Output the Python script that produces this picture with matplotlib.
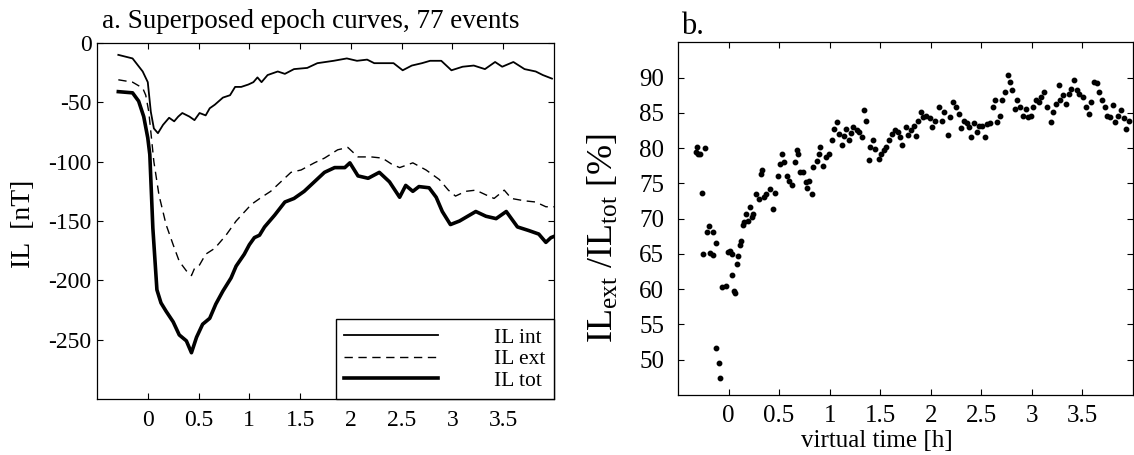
import matplotlib
matplotlib.use("Agg")
import matplotlib.pyplot as plt

plt.rcParams.update({
    "font.family": ["Liberation Serif", "DejaVu Serif"],
    "mathtext.fontset": "custom",
    "mathtext.rm": "Liberation Serif",
    "mathtext.it": "Liberation Serif:italic",
    "axes.unicode_minus": False,
})

# ---------------- data: panel a (superposed epoch curves) ----------------
t_int = [-0.29, -0.15, -0.05, 0.0, 0.03, 0.06, 0.10, 0.15, 0.21, 0.26,
         0.30, 0.34, 0.41, 0.46, 0.51, 0.57, 0.61, 0.66, 0.74, 0.81,
         0.86, 0.92, 0.99, 1.04, 1.08, 1.12, 1.18, 1.28, 1.35, 1.44,
         1.57, 1.67, 1.83, 1.96, 2.06, 2.16, 2.23, 2.30, 2.42, 2.51,
         2.60, 2.70, 2.78, 2.89, 2.99, 3.10, 3.21, 3.32, 3.42, 3.49,
         3.60, 3.71, 3.82, 3.89, 3.98]
il_int = [-10, -13, -24, -33, -58, -72, -76, -69, -63, -66,
          -62, -59, -62, -65, -59, -61, -55, -52, -46, -44,
          -37, -37, -35, -33, -29, -33, -27, -24, -26, -22,
          -21, -17, -15, -13, -15, -14, -17, -17, -17, -23,
          -19, -17, -15, -15, -23, -20, -19, -22, -16, -20,
          -16, -22, -24, -27, -30]

t_ext = [-0.29, -0.15, -0.05, -0.02, 0.01, 0.06, 0.11, 0.18, 0.25, 0.31,
         0.38, 0.43, 0.46, 0.51, 0.57, 0.66, 0.77, 0.87, 1.02, 1.12,
         1.21, 1.31, 1.41, 1.51, 1.64, 1.74, 1.87, 1.97, 2.07, 2.20,
         2.31, 2.40, 2.48, 2.61, 2.74, 2.87, 2.96, 3.03, 3.13, 3.23,
         3.33, 3.41, 3.51, 3.58, 3.71, 3.82, 3.92, 4.00]
il_ext = [-31, -33, -38, -44, -58, -100, -128, -153, -170, -184,
          -192, -196, -190, -187, -178, -173, -162, -150, -136, -130,
          -125, -117, -109, -107, -101, -97, -90, -88, -96, -96,
          -97, -102, -105, -101, -107, -115, -124, -129, -125, -124,
          -128, -131, -124, -131, -133, -134, -138, -138]

t_tot = [-0.29, -0.15, -0.09, -0.04, 0.0, 0.02, 0.05, 0.09, 0.13, 0.18,
         0.25, 0.31, 0.38, 0.43, 0.48, 0.54, 0.61, 0.67, 0.74, 0.82,
         0.87, 0.95, 1.0, 1.05, 1.10, 1.15, 1.25, 1.35, 1.44, 1.54,
         1.64, 1.74, 1.84, 1.94, 1.99, 2.07, 2.17, 2.28, 2.38, 2.48,
         2.54, 2.61, 2.67, 2.77, 2.84, 2.90, 2.98, 3.07, 3.17, 3.23,
         3.33, 3.43, 3.53, 3.64, 3.75, 3.85, 3.92, 3.97, 4.0]
il_tot = [-41, -42, -49, -62, -80, -94, -156, -208, -219, -226,
          -235, -246, -251, -261, -248, -237, -232, -220, -209, -198,
          -188, -178, -170, -164, -162, -155, -145, -134, -131, -125,
          -117, -109, -105, -105, -101, -112, -114, -109, -117, -130,
          -120, -125, -121, -122, -130, -142, -153, -150, -145, -142,
          -146, -148, -142, -155, -158, -161, -168, -164, -163]

series_labels = ["IL int", "IL ext", "IL tot"]

# ---------------- data: panel b (ratio IL_ext / IL_tot) ----------------
t_ratio = [-0.32, -0.31, -0.30, -0.28, -0.23, -0.26, -0.25, -0.21, -0.19, -0.15,
           -0.18, -0.15, -0.12, -0.12, -0.09, -0.08, -0.06, -0.03, -0.01, 0.01,
           0.03, 0.03, 0.05, 0.06, 0.08, 0.09, 0.11, 0.12, 0.14, 0.15,
           0.17, 0.19, 0.21, 0.23, 0.24, 0.27, 0.30, 0.32, 0.33, 0.35,
           0.37, 0.41, 0.44, 0.46, 0.49, 0.51, 0.53, 0.55, 0.58, 0.60,
           0.63, 0.66, 0.68, 0.69, 0.71, 0.74, 0.77, 0.78, 0.80, 0.83,
           0.84, 0.87, 0.89, 0.90, 0.93, 0.96, 0.99, 1.02, 1.04, 1.07,
           1.09, 1.12, 1.14, 1.16, 1.19, 1.21, 1.23, 1.27, 1.29, 1.32,
           1.34, 1.36, 1.39, 1.40, 1.43, 1.45, 1.49, 1.51, 1.54, 1.56,
           1.59, 1.62, 1.65, 1.68, 1.70, 1.72, 1.75, 1.77, 1.80, 1.83,
           1.85, 1.87, 1.90, 1.92, 1.95, 1.99, 2.01, 2.04, 2.08, 2.11,
           2.13, 2.17, 2.19, 2.22, 2.25, 2.28, 2.30, 2.33, 2.36, 2.38,
           2.40, 2.43, 2.46, 2.48, 2.51, 2.54, 2.56, 2.59, 2.62, 2.64,
           2.65, 2.68, 2.70, 2.73, 2.76, 2.78, 2.80, 2.83, 2.85, 2.88,
           2.91, 2.94, 2.96, 2.99, 3.01, 3.04, 3.07, 3.09, 3.12, 3.15,
           3.19, 3.21, 3.24, 3.27, 3.28, 3.31, 3.34, 3.37, 3.39, 3.42,
           3.45, 3.47, 3.51, 3.54, 3.56, 3.58, 3.61, 3.64, 3.66, 3.69,
           3.72, 3.74, 3.77, 3.80, 3.82, 3.85, 3.88, 3.91, 3.93, 3.96]
ratio = [79.4, 80.1, 79.2, 79.1, 80.0, 73.6, 65.0, 68.1, 69.0, 68.1,
         65.2, 64.9, 66.5, 51.6, 49.6, 47.4, 60.3, 60.5, 65.3, 65.4,
         65.0, 62.0, 59.8, 59.5, 63.6, 64.7, 66.2, 66.8, 69.1, 69.5,
         70.7, 69.7, 71.7, 70.2, 70.7, 73.5, 72.8, 76.3, 76.9, 73.0,
         73.5, 74.2, 71.4, 73.7, 76.0, 77.8, 79.1, 78.0, 76.1, 75.4,
         74.8, 78.0, 79.8, 79.2, 76.6, 76.6, 75.2, 74.4, 75.4, 73.5,
         77.3, 78.2, 79.2, 80.2, 77.5, 78.7, 79.2, 81.1, 82.7, 83.7,
         82.0, 80.4, 81.7, 82.7, 81.1, 82.1, 83.0, 82.5, 82.3, 81.6,
         85.4, 83.9, 78.3, 80.1, 81.1, 79.9, 78.5, 79.2, 79.7, 80.1,
         81.1, 82.0, 82.5, 82.3, 81.6, 80.4, 83.0, 81.8, 82.5, 83.2,
         81.7, 83.9, 85.1, 84.4, 84.6, 84.2, 83.0, 83.9, 85.8, 83.9,
         85.1, 81.8, 84.4, 86.5, 85.8, 84.9, 82.9, 83.9, 83.5, 83.0,
         81.6, 83.5, 82.3, 83.2, 83.2, 81.6, 83.4, 83.5, 85.8, 86.8,
         83.7, 84.6, 86.8, 88.0, 90.3, 89.4, 88.2, 85.6, 86.8, 85.8,
         84.6, 85.6, 84.4, 84.6, 85.8, 86.8, 86.5, 87.3, 88.0, 85.8,
         83.7, 85.1, 86.3, 88.9, 86.8, 87.5, 86.3, 87.7, 88.4, 89.6,
         88.2, 87.7, 87.3, 85.8, 84.9, 86.5, 89.4, 89.2, 88.0, 86.8,
         85.8, 84.6, 84.4, 86.1, 83.7, 84.6, 85.4, 84.2, 82.7, 83.9]

x_ticks = [0, 0.5, 1, 1.5, 2, 2.5, 3, 3.5]
x_tick_labels = ["0", "0.5", "1", "1.5", "2", "2.5", "3", "3.5"]
ya_ticks = [-250, -200, -150, -100, -50, 0]
ya_tick_labels = ["-250", "-200", "-150", "-100", "-50", "0"]
yb_ticks = [50, 55, 60, 65, 70, 75, 80, 85, 90]
yb_tick_labels = ["50", "55", "60", "65", "70", "75", "80", "85", "90"]

W, H = 1134, 455
fig = plt.figure(figsize=(W / 100, H / 100), dpi=100)
axa = fig.add_axes([97 / W, 56 / H, 457 / W, 356 / H])
axb = fig.add_axes([678 / W, 60 / H, 455 / W, 352.7 / H])

# ---- panel a
axa.plot(t_int, il_int, color="black", lw=1.3, label=series_labels[0])
axa.plot(t_ext, il_ext, color="black", lw=1.0, dashes=(6, 4), label=series_labels[1])
axa.plot(t_tot, il_tot, color="black", lw=2.6, label=series_labels[2])
axa.set_xlim(-0.5, 4.0)
axa.set_ylim(-300, 0)
axa.set_xticks(x_ticks)
axa.set_xticklabels(x_tick_labels)
axa.set_yticks(ya_ticks)
axa.set_yticklabels(ya_tick_labels)
axa.tick_params(direction="in", top=True, right=True, length=4, width=0.8,
                labelsize=17)
axa.tick_params(axis="x", pad=8)
axa.tick_params(axis="y", pad=4)
leg = axa.legend(loc="lower right", bbox_to_anchor=(1, 0), borderaxespad=0,
                 fontsize=15.5, handlelength=4.4, handletextpad=2.6,
                 labelspacing=0.07, borderpad=0.38, fancybox=False,
                 framealpha=1, edgecolor="black")
leg.get_frame().set_linewidth(1.0)

# ---- panel b
axb.plot(t_ratio, ratio, linestyle="none", marker="o", ms=3.2, color="black")
axb.set_xlim(-0.5, 4.0)
axb.set_ylim(45, 95)
axb.set_xticks(x_ticks)
axb.set_xticklabels(x_tick_labels)
axb.set_yticks(yb_ticks)
axb.set_yticklabels(yb_tick_labels)
axb.tick_params(direction="in", top=True, right=True, length=4, width=0.8,
                labelsize=18)
axb.tick_params(axis="x", pad=7)
axb.tick_params(axis="y", pad=10)

for ax in (axa, axb):
    for s in ax.spines.values():
        s.set_linewidth(0.9)

# ---- texts
fig.text(102 / W, 1 - 28 / H, "a. Superposed epoch curves, 77 events",
         fontsize=19.5, ha="left", va="baseline")
fig.text(681 / W, 1 - 34 / H, "b.", fontsize=22, ha="left", va="baseline")
fig.text(24 / W, 1 - 224 / H, "IL  [nT]", fontsize=20, rotation=90,
         ha="center", va="center")
fig.text(604 / W, 1 - 238 / H, r"IL$_{\mathrm{ext}}$ /IL$_{\mathrm{tot}}$ [%]",
         fontsize=26, rotation=90, ha="center", va="center")
fig.text(877 / W, 1 - 441 / H, "virtual time [h]", fontsize=18,
         ha="center", va="center")

fig.savefig("out.png", dpi=100)
